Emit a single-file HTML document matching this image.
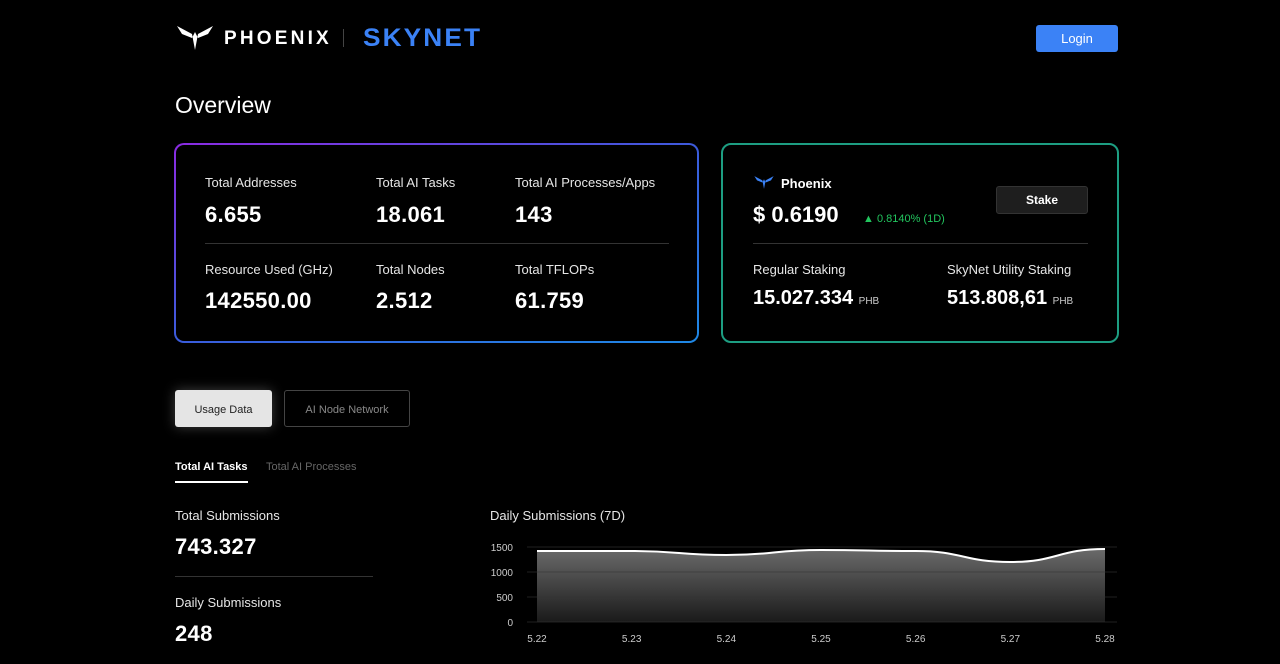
<!DOCTYPE html>
<html><head><meta charset="utf-8"><style>
*{box-sizing:border-box;margin:0;padding:0}
body{width:1280px;height:664px;background:#000;color:#fff;font-family:"Liberation Sans",sans-serif;position:relative;overflow:hidden}
.a{position:absolute;white-space:nowrap}
.lbl{font-size:13px;color:#e6e6e6}
.big{font-size:22px;font-weight:bold;letter-spacing:0.3px}
</style></head><body>
<div class="a" style="left:175px;top:24px;width:320px;height:28px">
<svg class="a" style="left:0;top:0" width="40" height="28" viewBox="0 0 40 28"><path d="M2 2 L17 10 L20 26 L23 10 L38 2 L33 10 L23 14 L20 8 L17 14 L7 10Z" fill="#fff"/></svg>
<span class="a" style="left:49px;top:4px;font-size:19px;font-weight:bold;letter-spacing:3.2px">PHOENIX</span>
<span class="a" style="left:168px;top:5px;width:1px;height:18px;background:#444"></span>
<span class="a" style="left:188px;top:0;font-size:25px;font-weight:bold;letter-spacing:2px;color:#3b82f6;transform:scaleX(1.05);transform-origin:left">SKYNET</span>
</div>
<div class="a" style="left:1036px;top:25px;width:82px;height:27px;background:#3b82f6;border-radius:3px;font-size:13px;text-align:center;line-height:27px">Login</div>
<div class="a" style="left:175px;top:92px;font-size:23px">Overview</div>

<div class="a" style="left:174px;top:143px;width:525px;height:200px;border-radius:10px;padding:2px;background:linear-gradient(160deg,#8b2be2,#3b5bdb 50%,#1e88e5)">
<div style="width:100%;height:100%;background:#000;border-radius:8px"></div></div>
<div class="a lbl" style="left:205px;top:175px">Total Addresses</div>
<div class="a big" style="left:205px;top:202px">6.655</div>
<div class="a lbl" style="left:376px;top:175px">Total AI Tasks</div>
<div class="a big" style="left:376px;top:202px">18.061</div>
<div class="a lbl" style="left:515px;top:175px">Total AI Processes/Apps</div>
<div class="a big" style="left:515px;top:202px">143</div>
<div class="a" style="left:205px;top:243px;width:464px;height:1px;background:#333"></div>
<div class="a lbl" style="left:205px;top:262px">Resource Used (GHz)</div>
<div class="a big" style="left:205px;top:288px">142550.00</div>
<div class="a lbl" style="left:376px;top:262px">Total Nodes</div>
<div class="a big" style="left:376px;top:288px">2.512</div>
<div class="a lbl" style="left:515px;top:262px">Total TFLOPs</div>
<div class="a big" style="left:515px;top:288px">61.759</div>

<div class="a" style="left:721px;top:143px;width:398px;height:200px;border-radius:10px;border:2px solid #1d9e82"></div>
<svg class="a" style="left:753px;top:175px" width="22" height="15" viewBox="0 0 40 28"><path d="M2 2 L17 10 L20 26 L23 10 L38 2 L33 10 L23 14 L20 8 L17 14 L7 10Z" fill="#3b82f6"/></svg>
<div class="a" style="left:781px;top:176px;font-size:13px;font-weight:bold">Phoenix</div>
<div class="a" style="left:753px;top:202px;font-size:22px;font-weight:bold">$ 0.6190</div>
<div class="a" style="left:863px;top:213px;font-size:11px;color:#22c55e">▲ 0.8140% (1D)</div>
<div class="a" style="left:996px;top:186px;width:92px;height:28px;background:#1e1e1e;border:1px solid #333;border-radius:3px;font-size:12px;font-weight:bold;text-align:center;line-height:26px">Stake</div>
<div class="a" style="left:753px;top:243px;width:335px;height:1px;background:#333"></div>
<div class="a lbl" style="left:753px;top:262px">Regular Staking</div>
<div class="a" style="left:753px;top:287px;font-size:20px;font-weight:bold">15.027.334 <span style="font-size:10px;font-weight:normal;color:#ccc">PHB</span></div>
<div class="a lbl" style="left:947px;top:262px">SkyNet Utility Staking</div>
<div class="a" style="left:947px;top:287px;font-size:20px;font-weight:bold">513.808,61 <span style="font-size:10px;font-weight:normal;color:#ccc">PHB</span></div>

<div class="a" style="left:175px;top:390px;width:97px;height:37px;background:#e5e5e5;color:#222;border-radius:3px;font-size:11px;text-align:center;line-height:40px;box-shadow:0 0 12px rgba(255,255,255,0.25)">Usage Data</div>
<div class="a" style="left:284px;top:390px;width:126px;height:37px;border:1px solid #444;color:#888;border-radius:3px;font-size:11px;text-align:center;line-height:38px">AI Node Network</div>
<div class="a" style="left:175px;top:461px;font-size:11px;font-weight:bold">Total AI Tasks</div>
<div class="a" style="left:175px;top:481px;width:73px;height:2px;background:#fff"></div>
<div class="a" style="left:266px;top:461px;font-size:11px;color:#666">Total AI Processes</div>
<div class="a lbl" style="left:175px;top:508px">Total Submissions</div>
<div class="a big" style="left:175px;top:534px">743.327</div>
<div class="a" style="left:175px;top:576px;width:198px;height:1px;background:#333"></div>
<div class="a lbl" style="left:175px;top:595px">Daily Submissions</div>
<div class="a big" style="left:175px;top:621px">248</div>
<div class="a lbl" style="left:490px;top:508px">Daily Submissions (7D)</div>
<svg class="a" id="chart" style="left:0;top:0" width="1280" height="664">
<defs><linearGradient id="g" x1="0" y1="0" x2="0" y2="1"><stop offset="0" stop-color="#6a6a6a"/><stop offset="1" stop-color="#1a1a1a"/></linearGradient></defs>
</svg>
<script>
const categories=["5.22","5.23","5.24","5.25","5.26","5.27","5.28"];
const values=[1420,1420,1340,1440,1420,1200,1460];
const yTicks=[0,500,1000,1500];
const svg=document.getElementById('chart');const NS="http://www.w3.org/2000/svg";
const x=i=>537+i*(1105-537)/(categories.length-1);
const y=v=>622-v*(75/1500);
function mk(t,a){const e=document.createElementNS(NS,t);for(const k in a)e.setAttribute(k,a[k]);svg.appendChild(e);return e;}
let d=`M${x(0)},${y(values[0])}`;
for(let i=1;i<values.length;i++){const x0=x(i-1),x1=x(i),m=(x0+x1)/2;d+=` C${m},${y(values[i-1])} ${m},${y(values[i])} ${x1},${y(values[i])}`;}
const area=mk('path',{d:d+` L${x(values.length-1)},${y(0)} L${x(0)},${y(0)}Z`,fill:'url(#g)'});


yTicks.forEach(v=>{
 const l=mk('line',{x1:527,x2:1117,y1:y(v),y2:y(v),stroke:'#333','stroke-opacity':0.6,'stroke-width':1});
 
 
 const t=mk('text',{x:513,y:y(v)+4,'text-anchor':'end','font-size':10,fill:'#ccc','font-family':'Liberation Sans'});t.textContent=v;
 
 
});
categories.forEach((c,i)=>{const t=mk('text',{x:x(i),y:642,'text-anchor':'middle','font-size':10,fill:'#ccc','font-family':'Liberation Sans'});t.textContent=c;
 
 });
const line=mk('path',{d:d,fill:'none',stroke:'#fff','stroke-width':2});


</script>
</body></html>
